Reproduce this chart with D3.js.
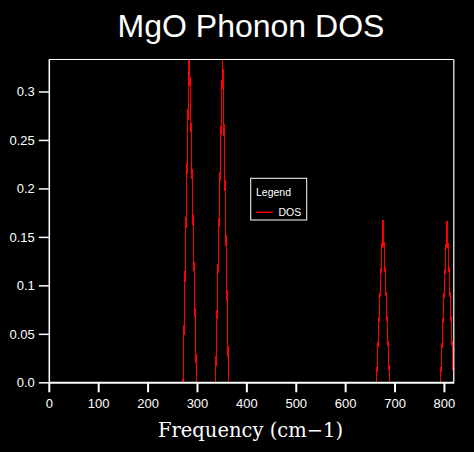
<!DOCTYPE html>
<html>
<head>
<meta charset="utf-8">
<script src="https://cdn.jsdelivr.net/npm/d3@7"></script>
<style>
  html, body { margin: 0; padding: 0; background: #000; }
  svg { display: block; }
</style>
</head>
<body>
<div id="dataviz"></div>
<script>
// DOS curve (frequency in cm-1, DOS value)
const freq = [0, 271.8, 284.4, 299.1, 337.6, 352.0, 364.0, 663.5, 676.7, 690.0, 793.1, 806.3, 819.6, 820];
const dos  = [0, 0, 0.346, 0, 0, 0.338, 0, 0, 0.167, 0, 0, 0.166, 0, 0];

const xTicks = [0, 100, 200, 300, 400, 500, 600, 700, 800];
const yTicks = [0, 0.05, 0.1, 0.15, 0.2, 0.25, 0.3];
const yTickLabels = ["0.0", "0.05", "0.1", "0.15", "0.2", "0.25", "0.3"];

const title = "MgO Phonon DOS";
const xLabel = "Frequency (cm\u22121)";
const seriesName = "DOS";

// set the dimensions and margins of the graph
const margin = {top: 59.5, right: 20.2, bottom: 69.7, left: 48.8},
  width = 474 - margin.left - margin.right,
  height = 452 - margin.top - margin.bottom;

const svg = d3.select("#dataviz")
  .append("svg")
  .attr("width", 474)
  .attr("height", 452);

const g = svg.append("g")
  .attr("transform", `translate(${margin.left}, ${margin.top})`);

const x = d3.scaleLinear().domain([0, 820]).range([0, width]);
const y = d3.scaleLinear().domain([0, 0.333]).range([height, 0]);

// clip so the tall peaks stop at the frame
g.append("clipPath")
  .attr("id", "plot-clip")
  .append("rect")
  .attr("width", width)
  .attr("height", height);

const points = freq.map((f, i) => [f, dos[i]]);

// aliased line gives the stair look of the original
g.append("path")
  .datum(points)
  .attr("clip-path", "url(#plot-clip)")
  .attr("fill", "none")
  .attr("stroke", "#ff0000")
  .attr("stroke-width", 1.2)
  .attr("shape-rendering", "crispEdges")
  .attr("d", d3.line().x(d => x(d[0])).y(d => y(d[1])));

// frame top and right
g.append("line")
  .attr("x1", 0).attr("x2", width).attr("y1", 0).attr("y2", 0)
  .attr("stroke", "#fff").attr("stroke-width", 1.2);
g.append("line")
  .attr("x1", width).attr("x2", width).attr("y1", 0).attr("y2", height)
  .attr("stroke", "#fff").attr("stroke-width", 1.2);

// x axis
const xAxis = g.append("g")
  .attr("transform", `translate(0, ${height})`)
  .call(d3.axisBottom(x).tickValues(xTicks).tickSize(10).tickPadding(6).tickSizeOuter(0));

// y axis
const yAxis = g.append("g")
  .call(d3.axisLeft(y).tickValues(yTicks).tickFormat((d, i) => yTickLabels[i]).tickSize(10).tickPadding(4).tickSizeOuter(0));

[xAxis, yAxis].forEach(ax => {
  ax.select(".domain").attr("stroke", "#fff");
  ax.selectAll(".tick line").attr("stroke", "#fff");
  ax.selectAll(".tick text")
    .attr("fill", "#fff")
    .style("font-family", "'Liberation Sans', Arial, sans-serif")
    .style("font-size", "13px");
});
xAxis.select(".domain").attr("stroke-width", 2);
xAxis.selectAll(".tick line").attr("stroke-width", 2);
yAxis.select(".domain").attr("stroke-width", 1.5);
yAxis.selectAll(".tick line").attr("stroke-width", 1.5);

// title
svg.append("text")
  .attr("x", 251)
  .attr("y", 37)
  .attr("text-anchor", "middle")
  .attr("fill", "#fff")
  .style("font-family", "'Liberation Sans', Arial, sans-serif")
  .style("font-size", "32px")
  .text(title);

// x axis label
svg.append("text")
  .attr("x", 250.5)
  .attr("y", 437)
  .attr("text-anchor", "middle")
  .attr("fill", "#fff")
  .style("font-family", "'DejaVu Serif', serif")
  .style("font-size", "19.5px")
  .text(xLabel);

// legend box
const legend = svg.append("g");
legend.append("rect")
  .attr("x", 250.7).attr("y", 178.3)
  .attr("width", 56).attr("height", 41.7)
  .attr("fill", "#000")
  .attr("stroke", "#fff")
  .attr("stroke-width", 1);
legend.append("text")
  .attr("x", 256).attr("y", 196)
  .attr("fill", "#fff")
  .style("font-family", "'Liberation Sans', Arial, sans-serif")
  .style("font-size", "10.5px")
  .text("Legend");
legend.append("line")
  .attr("x1", 256).attr("x2", 272.7)
  .attr("y1", 212.3).attr("y2", 212.3)
  .attr("stroke", "#ff0000")
  .attr("stroke-width", 1.5);
legend.append("text")
  .attr("x", 278.5).attr("y", 215.7)
  .attr("fill", "#fff")
  .style("font-family", "'Liberation Sans', Arial, sans-serif")
  .style("font-size", "10.5px")
  .text(seriesName);
</script>
</body>
</html>
